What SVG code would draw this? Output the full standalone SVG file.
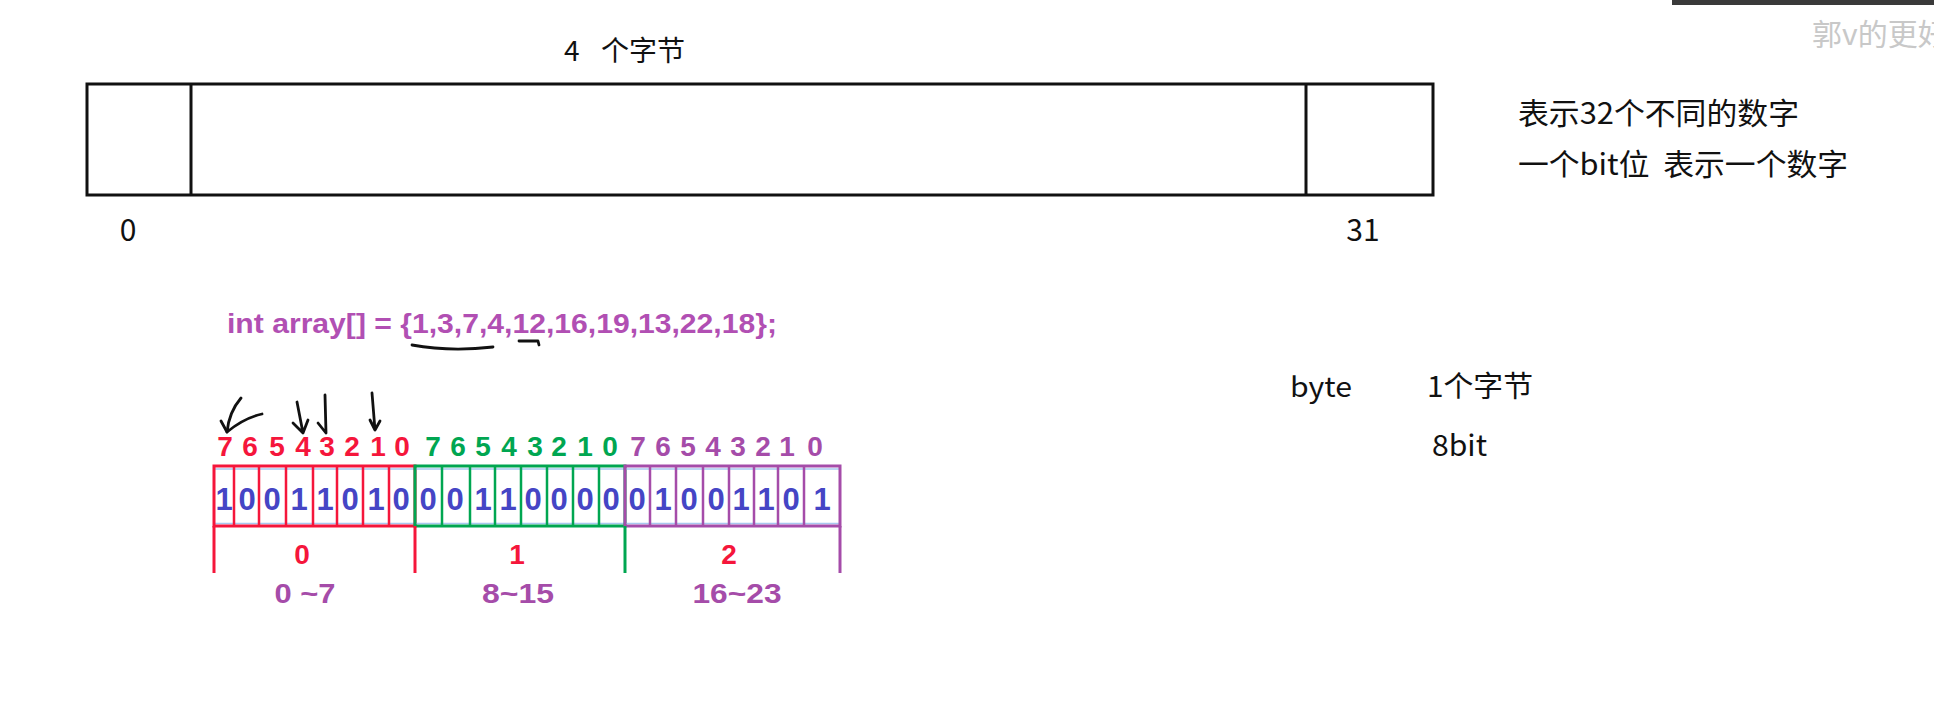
<svg xmlns="http://www.w3.org/2000/svg" width="1934" height="724" viewBox="0 0 1934 724">
<style>
.bx{fill:none;stroke:#111;stroke-width:3}
.cj{font-family:"Noto Sans CJK SC","Liberation Sans",sans-serif;fill:#111}
.bd{font-family:"Liberation Sans",Arial,sans-serif;font-weight:bold;text-anchor:middle}
.red{fill:#f5163b}.grn{fill:#00a651}.pur{fill:#a54ca9}.blu{fill:#4545c5}
.sr{stroke:#f5163b}.sg{stroke:#00a651}.sp{stroke:#a54ca9}
.cell{stroke-width:2.5;fill:none}
.grp{stroke-width:3;fill:none}
.lb{stroke:#a8c8f0;stroke-width:1.5}
.hand{fill:none;stroke:#111;stroke-width:2.8;stroke-linecap:round;stroke-linejoin:round}
</style>
<rect width="1934" height="724" fill="#fff"/>
<rect x="1672" y="0" width="262" height="5" fill="#3a3a3a"/>
<text x="1812" y="45" font-family="Noto Sans CJK SC, sans-serif" font-size="30" fill="#c8c8c8">郭v的更好</text>

<g id="word-box">
<rect class="bx" x="87" y="84" width="1346" height="111"/>
<line class="bx" x1="191" y1="84" x2="191" y2="195"/>
<line class="bx" x1="1306" y1="84" x2="1306" y2="195"/>
</g>
<g id="labels-top">
<text class="cj" x="564" y="61" font-size="28">4</text>
<text class="cj" x="601" y="61" font-size="28">个字节</text>
<text x="128" y="241" font-family="Noto Sans CJK SC, sans-serif" font-size="30" text-anchor="middle" fill="#111">0</text>
<text x="1363" y="241" font-family="Noto Sans CJK SC, sans-serif" font-size="30" text-anchor="middle" fill="#111">31</text>
<text class="cj" x="1518" y="124" font-size="30" textLength="281" lengthAdjust="spacingAndGlyphs">表示32个不同的数字</text>
<text class="cj" x="1518" y="175" font-size="30" textLength="330" lengthAdjust="spacingAndGlyphs" xml:space="preserve">一个bit位  表示一个数字</text>
<text class="cj" x="1290" y="397" font-size="28" textLength="62" lengthAdjust="spacingAndGlyphs">byte</text>
<text class="cj" x="1427" y="397" font-size="29" textLength="106" lengthAdjust="spacingAndGlyphs">1个字节</text>
<text class="cj" x="1432" y="456" font-size="29" textLength="55" lengthAdjust="spacingAndGlyphs">8bit</text>
</g>

<g id="code">
<text x="227" y="333" font-family="Liberation Sans, Arial, sans-serif" font-weight="bold" font-size="27" fill="#b14fb3" textLength="550" lengthAdjust="spacingAndGlyphs">int array[] = {1,3,7,4,12,16,19,13,22,18};</text>
<path class="hand" d="M412 345 Q450 352 493 347"/>
<path class="hand" d="M519 341 L538 341 L539 345"/>
</g>

<g id="hand-arrows">
<path class="hand" d="M241 398 Q229 412 227 432 Q244 418 262 414"/>
<path class="hand" d="M221 421 L227 432"/>
<path class="hand" d="M297 402 L303 433 M293 423 L303 433 L308 420"/>
<path class="hand" d="M325 395 L326 433 M318 423 L326 433"/>
<path class="hand" d="M372 393 L375 430 M370 420 L375 430 L380 421"/>
</g>

<g id="bit-index">
<g class="bd red" font-size="28">
<text x="225" y="456">7</text><text x="250" y="456">6</text><text x="277" y="456">5</text><text x="303" y="456">4</text><text x="327" y="456">3</text><text x="352" y="456">2</text><text x="378" y="456">1</text><text x="402" y="456">0</text>
</g>
<g class="bd grn" font-size="28">
<text x="433" y="456">7</text><text x="458" y="456">6</text><text x="483" y="456">5</text><text x="509" y="456">4</text><text x="535" y="456">3</text><text x="559" y="456">2</text><text x="585" y="456">1</text><text x="610" y="456">0</text>
</g>
<g class="bd pur" font-size="28">
<text x="638" y="456">7</text><text x="663" y="456">6</text><text x="688" y="456">5</text><text x="713" y="456">4</text><text x="738" y="456">3</text><text x="763" y="456">2</text><text x="787" y="456">1</text><text x="815" y="456">0</text>
</g>
</g>

<g id="byte0">
<line class="lb" x1="214" y1="469" x2="415" y2="469"/><line class="lb" x1="214" y1="523.5" x2="415" y2="523.5"/>
<rect class="grp sr" x="214" y="466" width="201" height="60"/>
<path class="cell sr" d="M234 466V526M259 466V526M286 466V526M313 466V526M337 466V526M363 466V526M389 466V526"/>
<g class="bd blu" font-size="31">
<text x="224" y="510">1</text><text x="247" y="510">0</text><text x="272" y="510">0</text><text x="299" y="510">1</text><text x="325" y="510">1</text><text x="350" y="510">0</text><text x="376" y="510">1</text><text x="401" y="510">0</text>
</g>
</g>
<g id="byte1">
<line class="lb" x1="415" y1="469" x2="625" y2="469"/><line class="lb" x1="415" y1="523.5" x2="625" y2="523.5"/>
<rect class="grp sg" x="415" y="466" width="210" height="60"/>
<path class="cell sg" d="M442 466V526M470 466V526M495 466V526M521 466V526M547 466V526M573 466V526M599 466V526"/>
<g class="bd blu" font-size="31">
<text x="428" y="510">0</text><text x="455" y="510">0</text><text x="483" y="510">1</text><text x="508" y="510">1</text><text x="533" y="510">0</text><text x="559" y="510">0</text><text x="585" y="510">0</text><text x="611" y="510">0</text>
</g>
</g>
<g id="byte2">
<line class="lb" x1="625" y1="469" x2="840" y2="469"/><line class="lb" x1="625" y1="523.5" x2="840" y2="523.5"/>
<rect class="grp sp" x="625" y="466" width="215" height="60"/>
<path class="cell sp" d="M650 466V526M676 466V526M703 466V526M729 466V526M754 466V526M778 466V526M804 466V526"/>
<g class="bd blu" font-size="31">
<text x="637" y="510">0</text><text x="663" y="510">1</text><text x="689" y="510">0</text><text x="716" y="510">0</text><text x="741" y="510">1</text><text x="766" y="510">1</text><text x="791" y="510">0</text><text x="822" y="510">1</text>
</g>
</g>

<g id="connectors">
<line class="grp sr" x1="214" y1="526" x2="214" y2="573"/>
<line class="grp sr" x1="415" y1="526" x2="415" y2="573"/>
<line class="grp sg" x1="625" y1="526" x2="625" y2="573"/>
<line class="grp sp" x1="840" y1="526" x2="840" y2="573"/>
</g>

<g id="byte-labels">
<g class="bd red" font-size="28">
<text x="302" y="564">0</text><text x="517" y="564">1</text><text x="729" y="564">2</text>
</g>
<g class="bd pur" font-size="28">
<text x="305" y="603" textLength="61" lengthAdjust="spacingAndGlyphs" xml:space="preserve">0 ~7</text>
<text x="518" y="603" textLength="72" lengthAdjust="spacingAndGlyphs">8~15</text>
<text x="737" y="603" textLength="89" lengthAdjust="spacingAndGlyphs">16~23</text>
</g>
</g>
</svg>
